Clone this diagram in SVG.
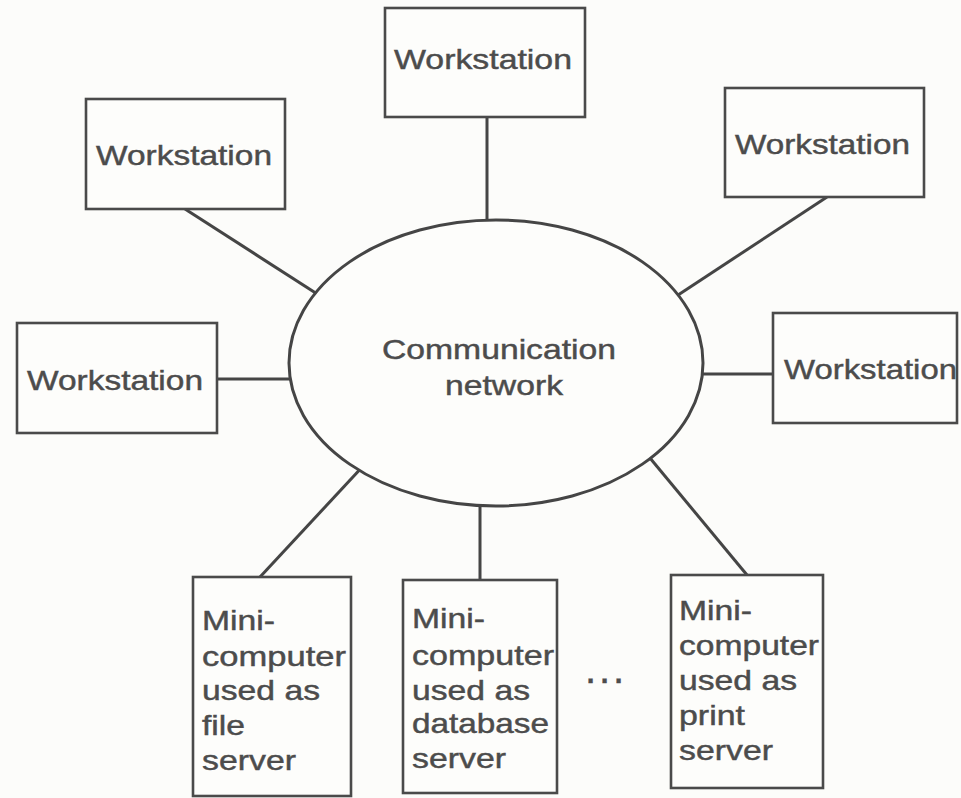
<svg xmlns="http://www.w3.org/2000/svg" width="961" height="798" viewBox="0 0 961 798">
  <style>
    .bg { fill: #fcfcfa; }
    .box { fill: #fdfdfb; stroke: #4a4a4a; stroke-width: 2.6; }
    .net { fill: #fdfdfb; stroke: #454545; stroke-width: 3; }
    .link { stroke: #454545; stroke-width: 3; fill: none; stroke-linecap: butt; }
    text { font-family: "Liberation Sans", Arial, sans-serif; font-size: 28px; fill: #4c4c4c; stroke: #4c4c4c; stroke-width: 0.45; }
  </style>

  <rect class="bg" x="0" y="0" width="961" height="798"/>

  <!-- links between the network and every attached machine -->
  <g id="connectors">
    <line class="link" x1="185" y1="209" x2="325" y2="299"/>
    <line class="link" x1="487" y1="117" x2="487" y2="232"/>
    <line class="link" x1="827" y1="197" x2="672" y2="299"/>
    <line class="link" x1="217" y1="379" x2="300" y2="379"/>
    <line class="link" x1="773" y1="374" x2="692" y2="374"/>
    <line class="link" x1="260" y1="577" x2="365" y2="464"/>
    <line class="link" x1="480" y1="580" x2="480" y2="495"/>
    <line class="link" x1="747" y1="575" x2="645" y2="452"/>
  </g>

  <g id="network">
    <ellipse class="net" cx="496" cy="363" rx="207" ry="143"/>
    <text x="382" y="359" textLength="234" lengthAdjust="spacingAndGlyphs">Communication</text>
    <text x="445" y="395" textLength="118" lengthAdjust="spacingAndGlyphs">network</text>
  </g>

  <g id="ws-top-left">
    <rect class="box" x="86" y="99" width="199" height="110"/>
    <text x="96" y="165" textLength="176" lengthAdjust="spacingAndGlyphs">Workstation</text>
  </g>

  <g id="ws-top">
    <rect class="box" x="385" y="8" width="200" height="109"/>
    <text x="394" y="69" textLength="178" lengthAdjust="spacingAndGlyphs">Workstation</text>
  </g>

  <g id="ws-top-right">
    <rect class="box" x="725" y="88" width="199" height="109"/>
    <text x="735" y="154" textLength="175" lengthAdjust="spacingAndGlyphs">Workstation</text>
  </g>

  <g id="ws-left">
    <rect class="box" x="17" y="323" width="200" height="110"/>
    <text x="27" y="390" textLength="176" lengthAdjust="spacingAndGlyphs">Workstation</text>
  </g>

  <g id="ws-right">
    <rect class="box" x="773" y="313" width="184" height="110"/>
    <text x="784" y="379" textLength="173" lengthAdjust="spacingAndGlyphs">Workstation</text>
  </g>

  <g id="mini-file">
    <rect class="box" x="193" y="577" width="158" height="219"/>
    <text x="202" y="630" textLength="73" lengthAdjust="spacingAndGlyphs">Mini-</text>
    <text x="202" y="666" textLength="144" lengthAdjust="spacingAndGlyphs">computer</text>
    <text x="202" y="700" textLength="118" lengthAdjust="spacingAndGlyphs">used as</text>
    <text x="202" y="735" textLength="43" lengthAdjust="spacingAndGlyphs">file</text>
    <text x="202" y="770" textLength="94" lengthAdjust="spacingAndGlyphs">server</text>
  </g>

  <g id="mini-database">
    <rect class="box" x="403" y="580" width="154" height="213"/>
    <text x="412" y="628" textLength="73" lengthAdjust="spacingAndGlyphs">Mini-</text>
    <text x="412" y="665" textLength="142" lengthAdjust="spacingAndGlyphs">computer</text>
    <text x="412" y="700" textLength="118" lengthAdjust="spacingAndGlyphs">used as</text>
    <text x="412" y="733" textLength="137" lengthAdjust="spacingAndGlyphs">database</text>
    <text x="412" y="768" textLength="94" lengthAdjust="spacingAndGlyphs">server</text>
  </g>

  <text x="585" y="683" style="font-size:40px; letter-spacing:2.9px">...</text>

  <g id="mini-print">
    <rect class="box" x="671" y="575" width="152" height="213"/>
    <text x="679" y="620" textLength="73" lengthAdjust="spacingAndGlyphs">Mini-</text>
    <text x="679" y="655" textLength="140" lengthAdjust="spacingAndGlyphs">computer</text>
    <text x="679" y="690" textLength="118" lengthAdjust="spacingAndGlyphs">used as</text>
    <text x="679" y="725" textLength="66" lengthAdjust="spacingAndGlyphs">print</text>
    <text x="679" y="760" textLength="94" lengthAdjust="spacingAndGlyphs">server</text>
  </g>
</svg>
